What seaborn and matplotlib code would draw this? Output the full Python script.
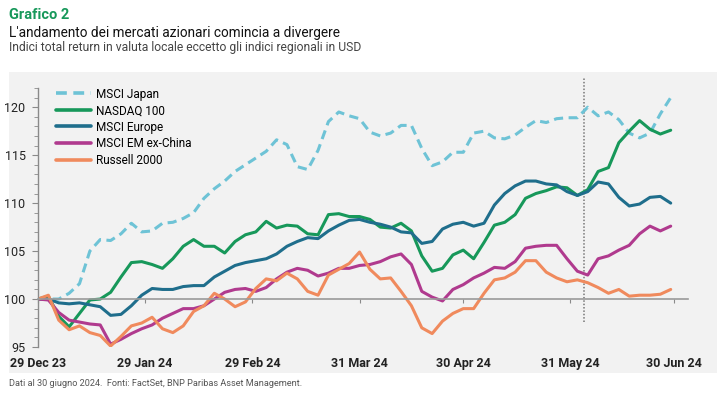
import matplotlib
matplotlib.use('Agg')
import matplotlib.pyplot as plt
from matplotlib.patches import Rectangle
from matplotlib.ticker import MultipleLocator
import pandas as pd
import seaborn as sns

# Dates: one point every 3 days from 29 Dec 2023
dates = pd.date_range('2023-12-29', periods=62, freq='3D')

msci_japan = [100, 100, 100, 100.6, 101.6, 105.0, 106.2, 106.1, 106.8, 107.9,
              107.0, 107.1, 107.9, 108.0, 108.4, 109.0, 110.5, 111.5, 112.3, 113.3,
              114.0, 114.7, 115.4, 116.6, 116.1, 113.8, 113.5, 115.5, 118.5, 119.5,
              119.1, 118.8, 117.4, 117.0, 117.3, 118.1, 118.1, 115.7, 113.9, 114.3,
              115.3, 115.3, 117.3, 117.5, 116.8, 116.7, 117.1, 117.9, 118.6, 118.4,
              118.8, 118.9, 118.9, 120.0, 119.1, 119.5, 118.7, 117.3, 116.8, 117.3,
              119.3, 121.0]
nasdaq_100 = [100, 100.3, 98.2, 97.1, 98.5, 99.9, 100.0, 100.7, 102.3, 103.8,
              103.9, 103.6, 103.2, 104.2, 105.5, 106.2, 105.5, 105.5, 104.8, 106.0,
              106.7, 107.0, 108.1, 107.4, 107.7, 107.6, 106.8, 106.7, 108.8, 108.9,
              108.6, 108.6, 108.3, 107.5, 107.4, 107.9, 107.1, 104.5, 102.9, 103.2,
              104.6, 105.1, 104.2, 105.9, 107.7, 108.0, 108.8, 110.5, 111.0, 111.3,
              111.7, 111.6, 110.8, 111.4, 113.3, 113.7, 116.3, 117.5, 118.6, 117.7,
              117.2, 117.6]
msci_europe = [100, 100, 99.6, 99.5, 99.6, 99.4, 99.2, 98.3, 98.4, 99.3,
               100.4, 101.1, 101.0, 101.0, 101.3, 101.4, 101.4, 102.3, 102.9, 103.5,
               103.8, 104.0, 104.2, 104.7, 105.5, 106.0, 106.4, 106.3, 107.1, 107.7,
               108.2, 108.3, 108.0, 107.8, 107.5, 107.0, 106.9, 105.8, 106.0, 107.3,
               107.8, 108.0, 107.6, 107.9, 109.8, 111.0, 111.8, 112.3, 112.3, 112.0,
               111.9, 111.2, 110.8, 111.2, 112.2, 112.0, 110.6, 109.7, 109.9, 110.6,
               110.7, 110.0]
msci_em_ex_china = [100, 99.9, 98.6, 97.8, 97.6, 97.4, 97.3, 95.3, 95.8, 96.4,
                    96.9, 97.3, 98.0, 98.5, 99.0, 99.0, 99.3, 100.0, 100.7, 101.0,
                    101.1, 100.8, 101.2, 102.1, 102.8, 103.2, 103.0, 102.4, 102.7, 103.2,
                    103.2, 103.5, 103.6, 103.9, 104.4, 104.7, 103.6, 100.8, 100.2, 99.8,
                    101.0, 101.5, 102.2, 102.7, 103.3, 103.2, 103.9, 105.3, 105.5, 105.6,
                    105.6, 104.2, 102.9, 102.5, 104.2, 104.5, 105.1, 105.6, 106.8, 107.6,
                    107.1, 107.6]
russell_2000 = [100, 100.4, 97.8, 96.8, 97.2, 96.5, 96.2, 95.1, 96.1, 97.2,
                97.5, 98.1, 96.9, 96.5, 97.2, 98.7, 99.3, 100.6, 100.0, 99.2,
                99.7, 101.1, 102.1, 101.9, 102.7, 102.1, 100.8, 100.4, 102.5, 103.1,
                103.7, 104.9, 103.1, 102.1, 102.2, 100.8, 99.3, 97.0, 96.4, 97.7,
                98.5, 99.0, 99.0, 100.6, 102.0, 102.2, 102.8, 104.0, 104.0, 102.8,
                102.2, 101.8, 102.0, 101.7, 101.2, 100.6, 101.0, 100.3, 100.4, 100.4,
                100.5, 101.0]

series_names = ['MSCI Japan', 'NASDAQ 100', 'MSCI Europe', 'MSCI EM ex-China', 'Russell 2000']
series_values = [msci_japan, nasdaq_100, msci_europe, msci_em_ex_china, russell_2000]
series_colors = ['#6ec3d6', '#17985a', '#1f6e8c', '#b03a8e', '#f08a5d']

tick_dates = ['2023-12-29', '2024-01-29', '2024-02-29', '2024-03-31',
              '2024-04-30', '2024-05-31', '2024-06-30']
tick_labels = ['29 Dec 23', '29 Jan 24', '29 Feb 24', '31 Mar 24',
               '30 Apr 24', '31 May 24', '30 Jun 24']
marker_date = '2024-06-04'

plt.rcParams['font.family'] = ['Roboto', 'DejaVu Sans']

fig = plt.figure(figsize=(7.25, 4.0), dpi=100)
# grey panel behind the chart
fig.patches.append(Rectangle((9 / 725, 1 - 373 / 400), 708 / 725, 301 / 400,
                             transform=fig.transFigure, facecolor='#f2f2f2',
                             edgecolor='none', zorder=-5))
ax = fig.add_axes([38 / 725, 1 - 347 / 400, 650 / 725, 259 / 400])
ax.set_zorder(2)
ax.patch.set_alpha(0)

for name, vals, col in zip(series_names, series_values, series_colors):
    ls = (0, (3.0, 1.8)) if name == 'MSCI Japan' else '-'
    sns.lineplot(x=dates, y=vals, ax=ax, color=col, lw=2.2, linestyle=ls,
                 label=name, solid_capstyle='round', dash_capstyle='butt')

ax.axvline(pd.Timestamp(marker_date), ymin=0.096, ymax=1.041, color='#777777',
           ls=(0, (1, 1.2)), lw=1.1, clip_on=False, zorder=1)

ax.set_ylim(95, 122)
ax.set_xlim(pd.Timestamp('2023-12-29'), pd.Timestamp('2024-07-04'))
ax.yaxis.set_major_locator(MultipleLocator(5))
ax.yaxis.set_minor_locator(MultipleLocator(1))
ax.set_yticks([95, 100, 105, 110, 115, 120])
ax.set_xticks(pd.to_datetime(tick_dates))
ax.set_xticklabels(tick_labels)

for s in ['top', 'right']:
    ax.spines[s].set_visible(False)
ax.spines['left'].set_color('#8a8a8a')
ax.spines['left'].set_linewidth(1.0)
ax.spines['bottom'].set_position(('data', 100))
ax.spines['bottom'].set_color('#9a9a9a')
ax.spines['bottom'].set_linewidth(1.2)
ax.tick_params(axis='y', which='major', length=4, color='#8a8a8a', labelsize=9,
               labelcolor='#222222', pad=5)
ax.tick_params(axis='y', which='minor', length=3, color='#8a8a8a')
ax.tick_params(axis='x', length=3, color='#8a8a8a', labelsize=9,
               labelcolor='#222222', pad=38.5)
for lab in ax.get_xticklabels():
    lab.set_fontweight('bold')
ax.set_xlabel('')
ax.set_ylabel('')

leg = ax.legend(loc='upper left', bbox_to_anchor=(0.02, 1.02), frameon=False,
                fontsize=8.5, handlelength=3.0, handletextpad=0.4,
                labelspacing=0.3, borderaxespad=0)
for h in leg.get_lines():
    h.set_linewidth(2.6)

fig.text(9 / 725, 1 - 15 / 400, 'Grafico 2', color='#17985a', fontsize=10.5,
         fontweight='bold', va='center', ha='left')
fig.text(9 / 725, 1 - 33 / 400, "L'andamento dei mercati azionari comincia a divergere",
         color='#111111', fontsize=9.8, va='center', ha='left')
fig.text(9 / 725, 1 - 48 / 400,
         'Indici total return in valuta locale eccetto gli indici regionali in USD',
         color='#444444', fontsize=8.7, va='center', ha='left')
fig.text(9 / 725, 1 - 383 / 400,
         'Dati al 30 giugno 2024.  Fonti: FactSet, BNP Paribas Asset Management.',
         color='#555555', fontsize=6.6, va='center', ha='left')

fig.savefig('out.png', dpi=100)
